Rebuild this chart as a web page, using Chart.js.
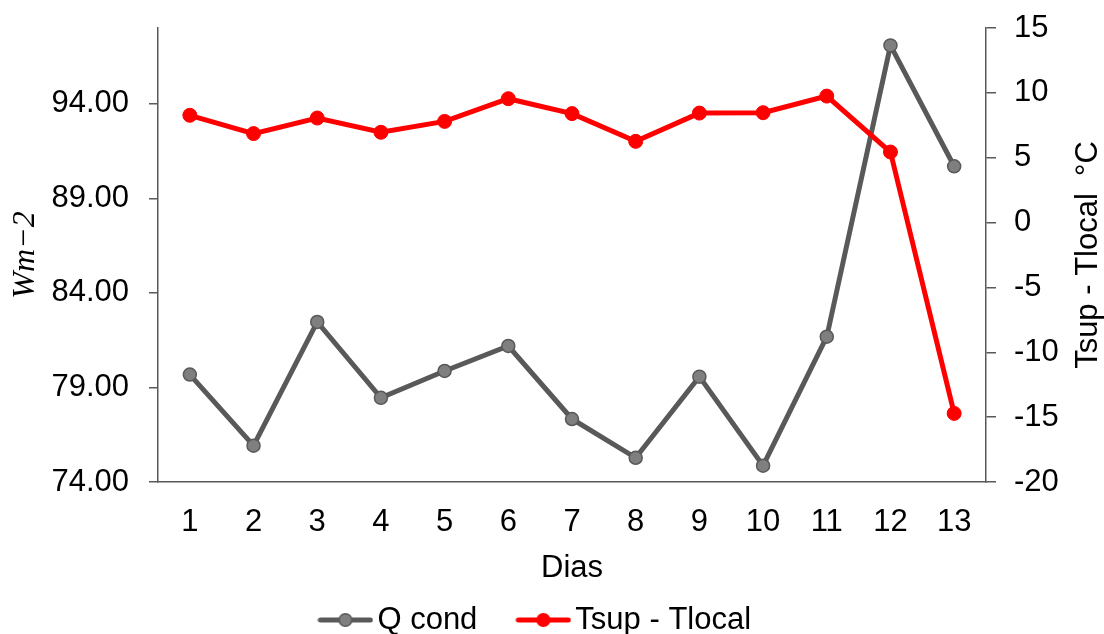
<!DOCTYPE html>
<html>
<head>
<meta charset="utf-8">
<script src="https://cdn.jsdelivr.net/npm/chart.js@4"></script>
<style>
  html, body { margin: 0; padding: 0; background: #fff; }
  #wrap { width: 1104px; height: 634px; }
</style>
</head>
<body>
<div id="wrap"><canvas id="lineChart"></canvas></div>
<script>
const DIAS = ['1', '2', '3', '4', '5', '6', '7', '8', '9', '10', '11', '12', '13'];
const Q_COND = [79.68, 75.92, 82.46, 78.45, 79.87, 81.19, 77.33, 75.28, 79.57, 74.86, 81.68, 97.08, 90.69];
const TSUP_TLOCAL = [8.27, 6.86, 8.06, 6.96, 7.80, 9.55, 8.40, 6.26, 8.44, 8.47, 9.75, 5.44, -14.71];
const LEFT_TICKS = [74, 79, 84, 89, 94];
const RIGHT_TICKS = [-20, -15, -10, -5, 0, 5, 10, 15];

const GRAY = '#595959';
const FONT = 'Liberation Sans, Arial, sans-serif';
const FS = 31;

// little line+marker icons for the legend
function legendIcon(line, fill, border) {
    const c = document.createElement('canvas');
    c.width = 56; c.height = 16;
    const g = c.getContext('2d');
    g.strokeStyle = line; g.lineWidth = 5; g.lineCap = 'round';
    g.beginPath(); g.moveTo(3, 8); g.lineTo(53, 8); g.stroke();
    g.fillStyle = fill; g.strokeStyle = border; g.lineWidth = 1.5;
    g.beginPath(); g.arc(28, 8, 6.3, 0, Math.PI * 2); g.fill(); g.stroke();
    return c;
}
const icons = [legendIcon(GRAY, '#7f7f7f', GRAY), legendIcon('#ff0000', '#ff0000', '#ff0000')];

const rightTitle = {
    id: 'rightTitle',
    afterDraw(chart) {
        const ctx = chart.ctx;
        const a = chart.chartArea;
        ctx.save();
        ctx.translate(1088, (a.top + a.bottom) / 2);
        ctx.rotate(-Math.PI / 2);
        ctx.font = FS + 'px ' + FONT;
        ctx.fillStyle = '#000';
        ctx.textAlign = 'center';
        ctx.textBaseline = 'middle';
        ctx.fillText('Tsup - Tlocal  °C', 0, 0);
        ctx.restore();
    }
};

// keep the y axes from asking for extra room above the plot
function noVerticalPadding(s) {
    s.paddingTop = 0;
    s.paddingBottom = 0;
}

const dataLineChart = {
    labels: DIAS,
    datasets: [
        {
            label: 'Q cond',
            data: Q_COND,
            yAxisID: 'y',
            borderColor: GRAY,
            borderWidth: 5,
            pointBackgroundColor: '#7f7f7f',
            pointBorderColor: GRAY,
            pointBorderWidth: 1.5,
            pointRadius: 6.5,
            tension: 0,
            order: 1
        },
        {
            label: 'Tsup - Tlocal',
            data: TSUP_TLOCAL,
            yAxisID: 'y1',
            borderColor: '#ff0000',
            borderWidth: 5,
            pointBackgroundColor: '#ff0000',
            pointBorderColor: '#ff0000',
            pointBorderWidth: 1,
            pointRadius: 7,
            tension: 0,
            order: 0
        }
    ]
};

const configLineChart = {
    type: 'line',
    data: dataLineChart,
    plugins: [rightTitle],
    options: {
        responsive: true,
        maintainAspectRatio: false,
        animation: false,
        layout: { padding: { top: 28, left: 0, right: 24, bottom: 0 } },
        plugins: {
            tooltip: { enabled: false },
            legend: {
                position: 'bottom',
                maxHeight: 79,
                labels: {
                    usePointStyle: true,
                    pointStyleWidth: 33,
                    padding: 49.5,
                    color: '#000',
                    font: { family: FONT, size: FS },
                    sort: (a, b) => a.datasetIndex - b.datasetIndex,
                    generateLabels: (chart) => {
                        const items = Chart.defaults.plugins.legend.labels.generateLabels(chart);
                        items.forEach(it => { it.pointStyle = icons[it.datasetIndex]; });
                        return items;
                    }
                }
            }
        },
        scales: {
            x: {
                offset: true,
                grid: { display: false, drawTicks: false },
                border: { display: true, color: GRAY, width: 1.5 },
                ticks: { color: '#000', padding: 22, font: { family: FONT, size: FS } },
                title: {
                    display: true,
                    text: 'Dias',
                    color: '#000',
                    font: { family: FONT, size: FS, lineHeight: 1 },
                    padding: { top: 0, bottom: -29 }
                },
                afterFit: (s) => { s.height = 73; }
            },
            y: {
                position: 'left',
                min: 74,
                max: 98,
                grid: { drawOnChartArea: false, drawTicks: true, tickLength: 9, color: GRAY, lineWidth: 1.5 },
                border: { display: true, color: GRAY, width: 1.5 },
                ticks: {
                    color: '#000',
                    padding: 20,
                    font: { family: FONT, size: FS },
                    callback: (v) => Number(v).toFixed(2)
                },
                afterBuildTicks: (s) => { s.ticks = LEFT_TICKS.map(v => ({ value: v })); },
                title: {
                    display: true,
                    text: 'Wm\u22122',
                    color: '#000',
                    font: { family: 'Liberation Serif, DejaVu Serif, serif', size: 32, style: 'italic', lineHeight: 1.2 },
                    padding: { top: 6, bottom: 0 }
                },
                afterFit: (s) => { s.width = 158; noVerticalPadding(s); }
            },
            y1: {
                position: 'right',
                min: -20,
                max: 15,
                grid: { drawOnChartArea: false, drawTicks: true, tickLength: 10, color: GRAY, lineWidth: 1.5 },
                border: { display: true, color: GRAY, width: 1.5 },
                ticks: { color: '#000', padding: 18, font: { family: FONT, size: FS } },
                afterBuildTicks: (s) => { s.ticks = RIGHT_TICKS.map(v => ({ value: v })); },
                afterFit: (s) => { s.width = 94; noVerticalPadding(s); }
            }
        }
    }
};

var lineChart = new Chart(document.getElementById('lineChart'), configLineChart);
</script>
</body>
</html>
